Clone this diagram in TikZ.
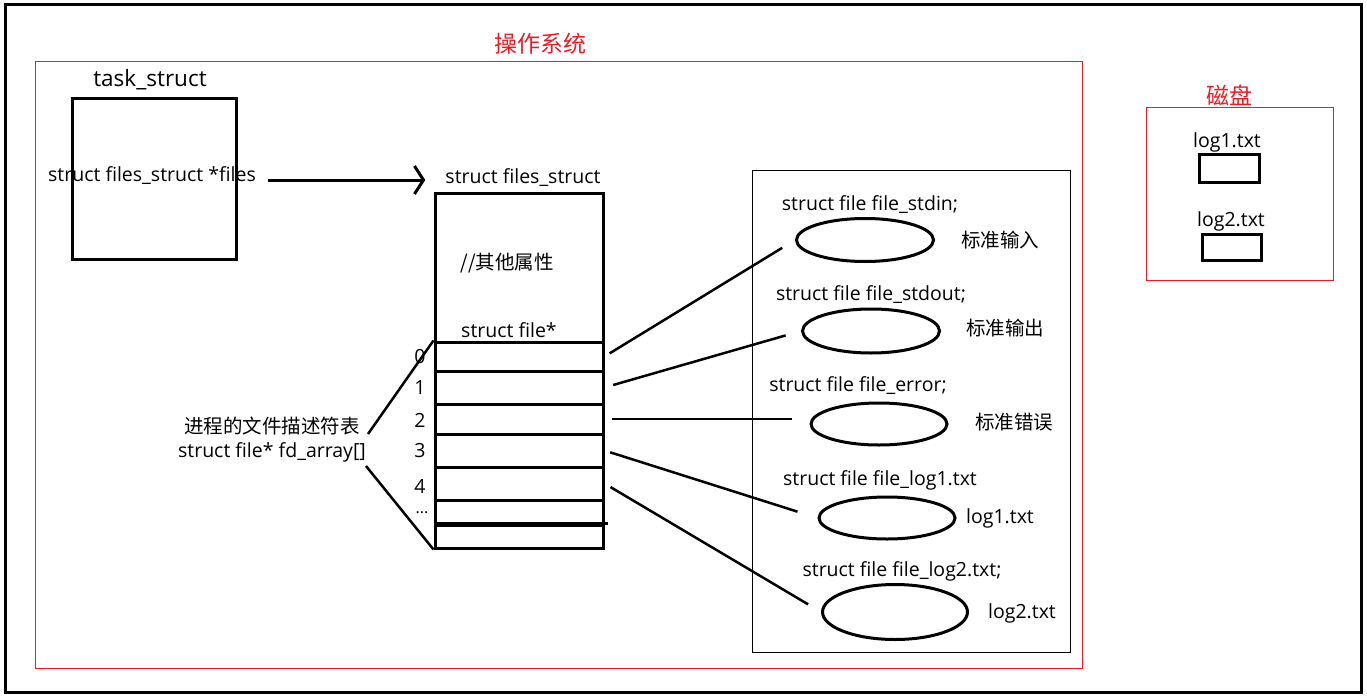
\documentclass[tikz,border=0pt]{standalone}
\usepackage{fontspec}
\setmainfont{Open Sans}
\newfontfamily\cjk{Noto Sans CJK SC}
\usepackage{tikz}
\usetikzlibrary{shapes.geometric,arrows.meta,positioning,calc}
\definecolor{osred}{RGB}{237,28,36}

\begin{document}
\begin{tikzpicture}[x=1pt,y=-1pt,
    txt/.style={inner sep=0pt,font=\fontsize{19.5}{24}\selectfont},
    zh/.style={inner sep=0pt,font=\fontsize{19.5}{24}\selectfont\cjk},
    title/.style={inner sep=0pt,text=osred,font=\fontsize{23}{27}\selectfont\cjk},
    box/.style={draw,line width=3pt,inner sep=0pt},
    frame/.style={draw,line width=1pt,inner sep=0pt},
    link/.style={line width=2.5pt}]
    \useasboundingbox (0,0) rectangle (1367,698);

    % Frames
    \node[box,minimum width=1356pt,minimum height=687pt] (screen) at (683,348.5) {};
    \node[frame,draw=osred,minimum width=1047pt,minimum height=606pt] (os) at (558.5,365) {};
    \node[title] (ostitle) at (540,44) {操作系统};

    % task_struct
    \node[txt,font=\fontsize{22.5}{26}\selectfont] (tslabel) at (150,80) {task\_struct};
    \node[box,minimum width=164pt,minimum height=160pt] (ts) at (154,179) {};
    \node[txt] (files) at (152,176) {struct files\_struct *files};

    % files_struct
    \node[txt] (fslabel) at (523,178) {struct files\_struct};
    \node[box,minimum width=168pt,minimum height=355pt] (fs) at (519,370.5) {};
    \node[zh] (other) at (507,263) {//其他属性};
    \node[txt] (fptr) at (509,330) {struct file*};
    \draw[line width=3pt,shorten >=20pt,-{Straight Barb[length=9pt,width=28pt]}] (files.east) ++(12,4) coordinate (ptr) (ptr) -- (fslabel.west |- ptr);

    % fd_array rows
    \foreach \i/\ya/\yb in {0/342/371,1/371/404,2/404/434,3/434/467,4/467/500,5/500/525,6/525/548} {
        \node[box,minimum width=168pt,minimum height={(\yb-\ya)*1pt}] (r\i) at (519,{(\ya+\yb)/2}) {};
    }
    \draw[line width=3pt] (r6.north west) -- ([xshift=3pt]r6.north east);
    \foreach \i/\y in {0/357,1/388,2/420,3/451,4/486} {
        \node[txt] (n\i) at (420,\y) {\i};
    }
    \node[txt,font=\fontsize{16}{20}\selectfont] (ndots) at (422,513) {...};

    % fd_array label
    \node[txt,align=center] (fd) at (272,440) {{\cjk 进程的文件描述符表}\\struct file* fd\_array[]};
    \coordinate (fdtop) at (368,434);
    \coordinate (fdbot) at (366,466);
    \draw[link] (fdtop) -- (r0.north west);
    \draw[link] (fdbot) -- (r6.south west);

    % struct file objects
    \node[frame,minimum width=318pt,minimum height=482pt] (fbox) at (911,411) {};
    \foreach \i/\x/\y/\w/\h in {1/865/240/137/43,2/871/331/137/44,3/879/424/136/42,4/887/518/136/42,5/895/612/145/55} {
        \node[box,ellipse,minimum width=\w pt,minimum height=\h pt] (e\i) at (\x,\y) {};
    }
    \node[txt] (l1) at (870,205) {struct file file\_stdin;};
    \node[txt] (l2) at (871,295) {struct file file\_stdout;};
    \node[txt] (l3) at (858,386) {struct file file\_error;};
    \node[txt] (l4) at (880,480) {struct file file\_log1.txt};
    \node[txt] (l5) at (902,571) {struct file file\_log2.txt;};
    \node[zh] (s1) at (1000,240) {标准输入};
    \node[zh] (s2) at (1005,328) {标准输出};
    \node[zh] (s3) at (1014,422) {标准错误};
    \node[txt] (s4) at (1000,518) {log1.txt};
    \node[txt] (s5) at (1022,613) {log2.txt};

    % Connections
    \draw[link,shorten <=6pt,shorten >=15pt] (r0.east) -- (e1.west);
    \draw[link,shorten <=9pt,shorten >=16pt] (r1.east) -- (e2.west);
    \draw[link,shorten <=7pt,shorten >=18pt] (r2.east) -- (r2.east -| e3.west);
    \draw[link,shorten <=6pt,shorten >=21pt] (r3.east) -- (e4.west);
    \draw[link,shorten <=7pt,shorten >=15pt] (r4.east) -- (e5.west);

    % Disk
    \node[frame,draw=osred,minimum width=187pt,minimum height=172pt] (disk) at (1239.5,194) {};
    \node[title] (disktitle) at (1229,95) {磁盘};
    \node[txt] (d1label) at (1227,142) {log1.txt};
    \node[box,minimum width=60pt,minimum height=28pt] (d1) at (1229,168) {};
    \node[txt] (d2label) at (1231,221) {log2.txt};
    \node[box,minimum width=59pt,minimum height=26pt] (d2) at (1231.5,247) {};
\end{tikzpicture}
\end{document}
